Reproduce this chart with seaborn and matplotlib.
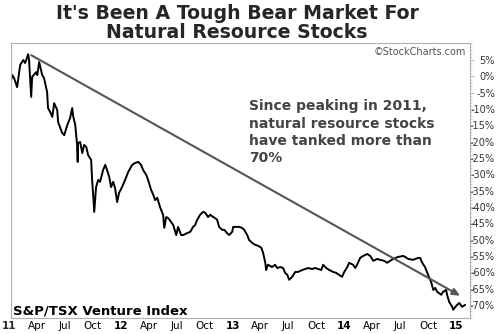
import matplotlib
matplotlib.use("Agg")
import matplotlib.pyplot as plt
import seaborn as sns
import pandas as pd
from matplotlib.ticker import MultipleLocator

# ---- data ----
dates = [
    "2011-01-04", "2011-01-11", "2011-01-17", "2011-01-27", "2011-02-06", "2011-02-16", "2011-02-22", "2011-03-01",
    "2011-03-04", "2011-03-07", "2011-03-14", "2011-03-17", "2011-03-30", "2011-04-03", "2011-04-09", "2011-04-19",
    "2011-04-25", "2011-05-05", "2011-05-08", "2011-05-15", "2011-05-22", "2011-05-28", "2011-06-07", "2011-06-10",
    "2011-06-23", "2011-06-30", "2011-07-10", "2011-07-19", "2011-07-26", "2011-07-29", "2011-08-05", "2011-08-11",
    "2011-08-13", "2011-08-14", "2011-08-21", "2011-08-28", "2011-09-03", "2011-09-10", "2011-09-16", "2011-09-26",
    "2011-09-29", "2011-10-03", "2011-10-06", "2011-10-12", "2011-10-19", "2011-10-25", "2011-11-04", "2011-11-11",
    "2011-11-17", "2011-11-24", "2011-11-30", "2011-12-07", "2011-12-13", "2011-12-20", "2011-12-26", "2012-01-05",
    "2012-01-15", "2012-01-25", "2012-02-07", "2012-02-17", "2012-02-27", "2012-03-07", "2012-03-14", "2012-03-24",
    "2012-03-30", "2012-04-09", "2012-04-16", "2012-04-22", "2012-04-29", "2012-05-08", "2012-05-18", "2012-05-22",
    "2012-05-28", "2012-06-04", "2012-06-13", "2012-06-20", "2012-06-30", "2012-07-06", "2012-07-16", "2012-07-23",
    "2012-08-05", "2012-08-15", "2012-08-24", "2012-08-31", "2012-09-06", "2012-09-16", "2012-09-26", "2012-10-03",
    "2012-10-12", "2012-10-19", "2012-10-29", "2012-11-04", "2012-11-11", "2012-11-17", "2012-11-27", "2012-12-04",
    "2012-12-13", "2012-12-20", "2012-12-30", "2013-01-02", "2013-01-12", "2013-01-22", "2013-01-31", "2013-02-07",
    "2013-02-17", "2013-02-23", "2013-03-05", "2013-03-15", "2013-03-25", "2013-04-04", "2013-04-10", "2013-04-17",
    "2013-04-20", "2013-04-23", "2013-04-26", "2013-05-09", "2013-05-19", "2013-05-26", "2013-06-05", "2013-06-14",
    "2013-06-21", "2013-06-28", "2013-07-04", "2013-07-14", "2013-07-24", "2013-08-02", "2013-08-16", "2013-08-25",
    "2013-09-04", "2013-09-17", "2013-09-27", "2013-10-07", "2013-10-17", "2013-10-23", "2013-11-02", "2013-11-12",
    "2013-11-25", "2013-12-05", "2013-12-14", "2013-12-24", "2013-12-31", "2014-01-10", "2014-01-16", "2014-01-29",
    "2014-02-05", "2014-02-11", "2014-02-21", "2014-03-03", "2014-03-16", "2014-03-26", "2014-04-05", "2014-04-18",
    "2014-04-27", "2014-05-11", "2014-05-20", "2014-05-30", "2014-06-09", "2014-06-25", "2014-07-12", "2014-07-18",
    "2014-07-28", "2014-08-13", "2014-08-30", "2014-09-05", "2014-09-12", "2014-09-21", "2014-10-01", "2014-10-11",
    "2014-10-18", "2014-10-24", "2014-10-31", "2014-11-13", "2014-11-19", "2014-11-29", "2014-12-02", "2014-12-09",
    "2014-12-19", "2014-12-22", "2014-12-29", "2015-01-04", "2015-01-11", "2015-01-20", "2015-01-30",
]
pct_change = [
    -2.7, 0.4, -0.5, -3.3, 3.5, 5.0, 4.1, 5.9,
    6.8, 5.0, -6.3, -0.2, 1.3, 0.4, 4.4, 0.4,
    -0.5, -4.8, -9.7, -10.9, -12.4, -8.2, -10.3, -14.0,
    -17.3, -18.0, -14.9, -12.8, -9.7, -12.1, -14.9, -21.0,
    -26.2, -20.4, -20.1, -23.5, -21.0, -21.6, -24.1, -25.6,
    -31.7, -36.9, -41.5, -33.9, -31.7, -32.3, -28.7, -27.1,
    -28.7, -30.8, -33.9, -32.3, -34.2, -38.5, -35.7, -33.9,
    -31.7, -29.3, -27.1, -26.5, -26.2, -27.1, -28.7, -30.2,
    -31.7, -34.8, -36.3, -37.9, -37.2, -40.0, -42.4, -46.4,
    -43.1, -43.4, -44.6, -45.5, -48.6, -46.1, -48.6, -48.6,
    -48.0, -47.6, -46.1, -45.5, -44.0, -42.4, -41.5, -41.8,
    -43.1, -42.4, -43.1, -43.4, -44.0, -46.1, -47.0, -47.0,
    -48.0, -48.6, -47.6, -46.1, -46.1, -46.1, -46.4, -47.0,
    -48.6, -50.1, -51.0, -51.6, -51.9, -52.5, -54.1, -57.1,
    -59.3, -58.4, -57.7, -58.4, -57.7, -58.7, -58.4, -58.7,
    -60.2, -60.8, -62.3, -61.4, -59.9, -59.9, -59.3, -59.0,
    -58.7, -59.0, -58.7, -59.0, -59.3, -57.7, -58.7, -59.3,
    -59.9, -60.2, -60.8, -61.4, -59.9, -58.4, -57.1, -57.7,
    -58.7, -57.7, -55.6, -55.0, -54.4, -55.0, -56.5, -55.9,
    -56.2, -56.5, -57.1, -56.5, -55.9, -55.3, -55.0, -55.3,
    -55.9, -56.2, -55.6, -55.6, -57.1, -58.4, -60.8, -63.0,
    -65.4, -64.8, -66.0, -66.9, -66.0, -65.4, -66.9, -69.1,
    -70.6, -71.5, -70.6, -70.0, -69.4, -70.6, -70.0,
]
assert len(dates) == len(pct_change)

trend_start = ("2011-03-14", 6.5)
trend_end = ("2015-01-14", -67.2)

y_ticks = list(range(-70, 6, 5))
y_tick_labels = [f"{v}%" for v in y_ticks]

x_tick_dates = ["2011-04-01", "2011-07-01", "2011-10-01",
                "2012-01-01", "2012-04-01", "2012-07-01", "2012-10-01",
                "2013-01-01", "2013-04-01", "2013-07-01", "2013-10-01",
                "2014-01-01", "2014-04-01", "2014-07-01", "2014-10-01",
                "2015-01-01"]
x_tick_labels = ["Apr", "Jul", "Oct",
                 "12", "Apr", "Jul", "Oct",
                 "13", "Apr", "Jul", "Oct",
                 "14", "Apr", "Jul", "Oct",
                 "15"]
first_year_label = ("2011-01-01", "11")

title = "It's Been A Tough Bear Market For\nNatural Resource Stocks"
note = "Since peaking in 2011,\nnatural resource stocks\nhave tanked more than\n70%"
index_name = "S&P/TSX Venture Index"
credit = "\u00a9StockCharts.com"

# ---- plot ----
sns.set_style("white")
plt.rcParams["font.family"] = ["DejaVu Sans"]

fig = plt.figure(figsize=(5, 3.34), dpi=100)
ax = fig.add_axes([0.022, 0.048, 0.918, 0.823])

df = pd.DataFrame({"date": pd.to_datetime(dates), "pct": pct_change})
sns.lineplot(data=df, x="date", y="pct", ax=ax, color="black", linewidth=1.4)

ax.set_xlim(pd.Timestamp("2011-01-07"), pd.Timestamp("2015-02-15"))
ax.set_ylim(-74.0, 10.2)
ax.set_xlabel("")
ax.set_ylabel("")

for s in ax.spines.values():
    s.set_color("#b0b0b0")
    s.set_linewidth(0.8)

# y axis on right
ax.yaxis.tick_right()
ax.set_yticks(y_ticks)
ax.set_yticklabels(y_tick_labels)
ax.yaxis.set_minor_locator(MultipleLocator(1))
ax.tick_params(axis="y", which="major", length=3, width=0.6, color="#b0b0b0",
               labelsize=7, labelcolor="#333333", pad=15, right=True, left=False)
ax.tick_params(axis="y", which="minor", length=1.5, width=0.5, color="#c0c0c0",
               right=True, left=False)
for lab in ax.get_yticklabels():
    lab.set_horizontalalignment("right")

# x axis
ax.set_xticks(pd.to_datetime(x_tick_dates))
ax.set_xticklabels(x_tick_labels)
ax.xaxis.set_minor_locator(matplotlib.ticker.NullLocator())
ax.tick_params(axis="x", length=0, pad=2, labelsize=7.5, labelcolor="black")
for lab in ax.get_xticklabels():
    if lab.get_text().isdigit():
        lab.set_fontweight("bold")
ax.annotate(first_year_label[1], xy=(pd.Timestamp(first_year_label[0]), 0),
            xycoords=("data", "axes fraction"), xytext=(0, -2),
            textcoords="offset points", ha="center", va="top",
            fontsize=7.5, fontweight="bold", annotation_clip=False)

# trend arrow
ax.annotate("", xy=(pd.Timestamp(trend_end[0]), trend_end[1]),
            xytext=(pd.Timestamp(trend_start[0]), trend_start[1]),
            arrowprops=dict(arrowstyle="-|>,head_length=0.45,head_width=0.2",
                            color="#555555", lw=1.5, shrinkA=0, shrinkB=0))

# texts
fig.text(0.474, 0.988, title, ha="center", va="top", fontsize=13.6,
         fontweight="bold", linespacing=1.0)
ax.text(pd.Timestamp("2013-02-22"), -7.0, note, ha="left", va="top",
        fontsize=10.0, fontweight="bold", color="#444444", linespacing=1.3)
ax.text(0.005, 0.011, index_name, transform=ax.transAxes, ha="left",
        va="baseline", fontsize=9.5, fontweight="bold", color="black")
ax.text(0.992, 0.985, credit, transform=ax.transAxes, ha="right", va="top",
        fontsize=7, color="#555555")

fig.savefig("out.png", dpi=100)
